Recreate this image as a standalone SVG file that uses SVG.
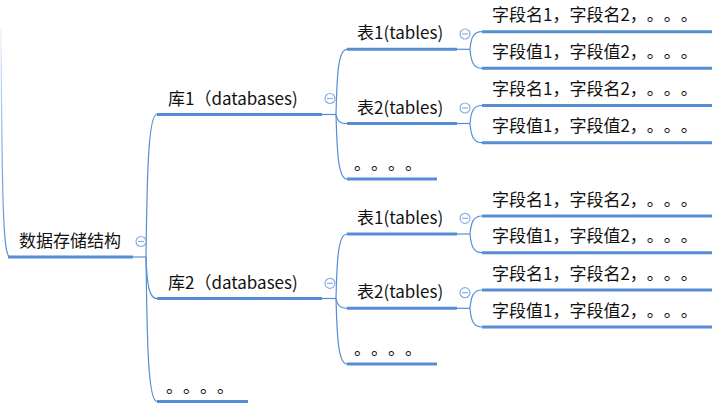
<svg xmlns="http://www.w3.org/2000/svg" width="724" height="407" viewBox="0 0 724 407">
<defs>
<linearGradient id="fade" x1="0" y1="28" x2="0" y2="257" gradientUnits="userSpaceOnUse">
<stop offset="0" stop-color="#558ED5" stop-opacity="0.1"/>
<stop offset="0.5" stop-color="#558ED5" stop-opacity="0.7"/>
<stop offset="1" stop-color="#558ED5" stop-opacity="1"/>
</linearGradient>
</defs>
<style>
.t{font-family:"Noto Sans CJK SC","Microsoft YaHei",sans-serif;font-size:17px;fill:#111;text-spacing-trim:space-all;font-feature-settings:"chws" 0,"halt" 0,"palt" 0}
.u{stroke:#558ED5;stroke-width:3;fill:none}
.c{stroke:#558ED5;stroke-width:1.2;fill:none}
.k circle{fill:#fff;stroke:#8AAEE0;stroke-width:1.2}
.k line{stroke:#8AAEE0;stroke-width:1.2}
</style>
<g id="connectors">
<path d="M1,28 C2,200 3,257 10,257" stroke="url(#fade)" stroke-width="1.2" fill="none"/>
<path class="c" d="M133,257 H146"/>
<path class="c" d="M146,257 C147,180 148,114 157,114"/>
<path class="c" d="M146,257 C147,285 149,298.5 157,298.5"/>
<path class="c" d="M146,257 C147,340 148,401.5 157,401.5"/>
<path class="c" d="M322,114.5 H336"/>
<path class="c" d="M336,114.5 C337,75 338,49.3 347,49.3"/>
<path class="c" d="M336,114.5 C337,120 339,123.5 347,123.5"/>
<path class="c" d="M336,114.5 C337,150 338,179 347,179"/>
<path class="c" d="M322,298.5 H336"/>
<path class="c" d="M336,298.5 C337,260 338,234 347,234"/>
<path class="c" d="M336,298.5 C337,304 339,308.3 347,308.3"/>
<path class="c" d="M336,298.5 C337,335 338,364 347,364"/>
<path class="c" d="M457,49.3 H470"/>
<path class="c" d="M470,49.3 C471,38 473,31.7 482,31.7"/>
<path class="c" d="M470,49.3 C471,61 473,68.3 482,68.3"/>
<path class="c" d="M457,123.5 H470"/>
<path class="c" d="M470,123.5 C471,112 473,105.5 482,105.5"/>
<path class="c" d="M470,123.5 C471,135 473,142.7 482,142.7"/>
<path class="c" d="M457,234 H470"/>
<path class="c" d="M470,234 C471,223 473,216 482,216"/>
<path class="c" d="M470,234 C471,245 473,252.7 482,252.7"/>
<path class="c" d="M457,308.3 H470"/>
<path class="c" d="M470,308.3 C471,297 473,290 482,290"/>
<path class="c" d="M470,308.3 C471,320 473,327 482,327"/>
</g>
<g id="root">
<text class="t" x="19" y="247">数据存储结构</text>
<path class="u" d="M8,257 H133"/>
<g class="k"><circle cx="141" cy="241.5" r="5"/><line x1="138" y1="241.5" x2="144" y2="241.5"/></g>
</g>
<g id="db1">
<text class="t" x="168" y="104.5">库1（databases)</text>
<path class="u" d="M157,114.5 H322"/>
<g class="k"><circle cx="330" cy="98.5" r="5"/><line x1="327" y1="98.5" x2="333" y2="98.5"/></g>
</g>
<g id="db2">
<text class="t" x="168" y="288.5">库2（databases)</text>
<path class="u" d="M157,298.5 H322"/>
<g class="k"><circle cx="330" cy="283.3" r="5"/><line x1="327" y1="283.3" x2="333" y2="283.3"/></g>
</g>
<g id="dbmore">
<text class="t" x="166" y="393">。。。。</text>
<path class="u" d="M157,401.5 H248"/>
</g>
<g id="db1-t1">
<text class="t" x="357" y="39">表1(tables)</text>
<path class="u" d="M347,49.3 H457"/>
<g class="k"><circle cx="465" cy="34" r="5"/><line x1="462" y1="34" x2="468" y2="34"/></g>
</g>
<g id="db1-t2">
<text class="t" x="357" y="113.5">表2(tables)</text>
<path class="u" d="M347,123.5 H457"/>
<g class="k"><circle cx="465" cy="108" r="5"/><line x1="462" y1="108" x2="468" y2="108"/></g>
</g>
<g id="db1-more">
<text class="t" x="354" y="170">。。。。</text>
<path class="u" d="M347,179 H437"/>
</g>
<g id="db2-t1">
<text class="t" x="357" y="224">表1(tables)</text>
<path class="u" d="M347,234 H457"/>
<g class="k"><circle cx="465" cy="218.3" r="5"/><line x1="462" y1="218.3" x2="468" y2="218.3"/></g>
</g>
<g id="db2-t2">
<text class="t" x="357" y="298.3">表2(tables)</text>
<path class="u" d="M347,308.3 H457"/>
<g class="k"><circle cx="465" cy="292.7" r="5"/><line x1="462" y1="292.7" x2="468" y2="292.7"/></g>
</g>
<g id="db2-more">
<text class="t" x="354" y="355">。。。。</text>
<path class="u" d="M347,364 H437"/>
</g>
<g id="f1">
<text class="t" x="492" y="21.2">字段名1，字段名2，。。。</text>
<path class="u" d="M482,31.7 H712"/>
</g>
<g id="f2">
<text class="t" x="492" y="58">字段值1，字段值2，。。。</text>
<path class="u" d="M482,68.3 H712"/>
</g>
<g id="f3">
<text class="t" x="492" y="95">字段名1，字段名2，。。。</text>
<path class="u" d="M482,105.5 H712"/>
</g>
<g id="f4">
<text class="t" x="492" y="132.2">字段值1，字段值2，。。。</text>
<path class="u" d="M482,142.7 H712"/>
</g>
<g id="f5">
<text class="t" x="492" y="205.5">字段名1，字段名2，。。。</text>
<path class="u" d="M482,216 H712"/>
</g>
<g id="f6">
<text class="t" x="492" y="242.2">字段值1，字段值2，。。。</text>
<path class="u" d="M482,252.7 H712"/>
</g>
<g id="f7">
<text class="t" x="492" y="279.5">字段名1，字段名2，。。。</text>
<path class="u" d="M482,290 H712"/>
</g>
<g id="f8">
<text class="t" x="492" y="316.5">字段值1，字段值2，。。。</text>
<path class="u" d="M482,327 H712"/>
</g>
</svg>
